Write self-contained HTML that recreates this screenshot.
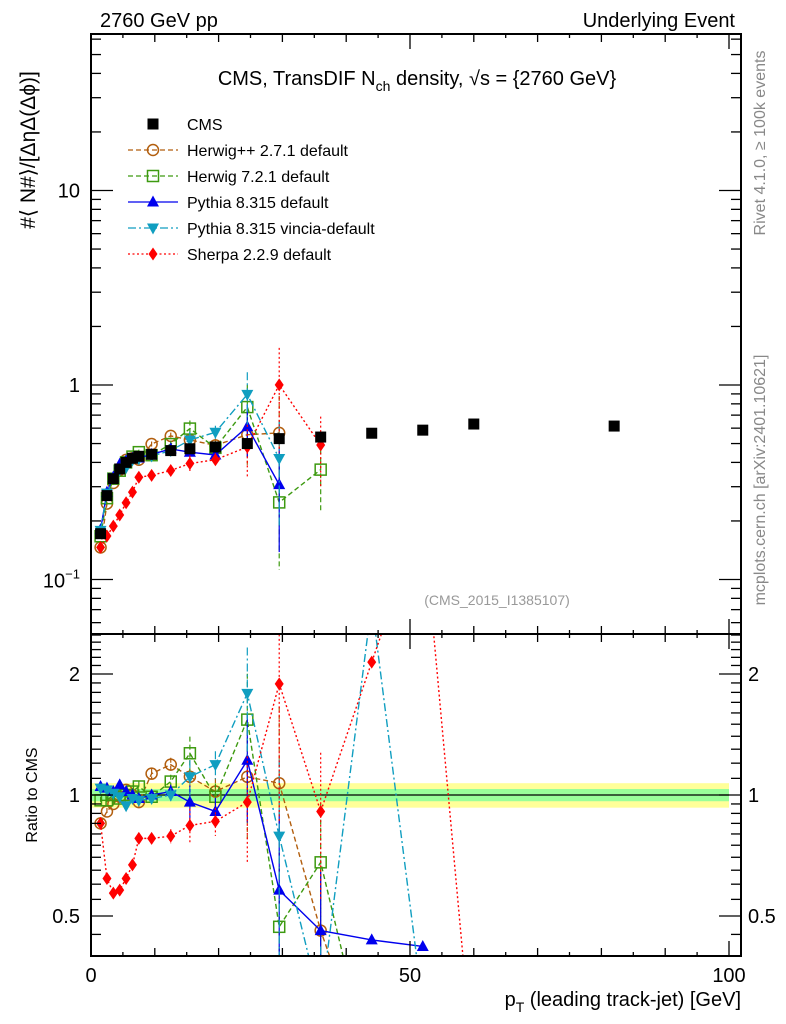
<!DOCTYPE html>
<html><head><meta charset="utf-8">
<style>
html,body{margin:0;padding:0;background:#fff;overflow:hidden;width:786px;height:1024px;}
svg{display:block;font-family:"Liberation Sans",sans-serif;}
</style></head>
<body>
<svg id="chart" width="786" height="1024" viewBox="0 0 786 1024" xmlns="http://www.w3.org/2000/svg">
<text x="100" y="27" font-size="20">2760 GeV pp</text>
<text x="735" y="27" font-size="20" text-anchor="end">Underlying Event</text>
<text x="417" y="85" font-size="20" text-anchor="middle">CMS, TransDIF N<tspan font-size="14" dy="6">ch</tspan><tspan dy="-6"> density, √s = {2760 GeV}</tspan></text>
<text x="497" y="605" font-size="14" fill="#999" text-anchor="middle">(CMS_2015_I1385107)</text>
<text transform="translate(765,143) rotate(-90)" font-size="16" fill="#888" text-anchor="middle">Rivet 4.1.0, ≥ 100k events</text>
<text transform="translate(765,480) rotate(-90)" font-size="16" fill="#888" text-anchor="middle">mcplots.cern.ch [arXiv:2401.10621]</text>
<text transform="translate(35,150) rotate(-90)" font-size="21" text-anchor="middle">#⟨ N#⟩/[ΔηΔ(Δϕ)]</text>
<text transform="translate(37,795) rotate(-90)" font-size="16" text-anchor="middle">Ratio to CMS</text>
<text x="741" y="1006" font-size="20" text-anchor="end">p<tspan font-size="14" dy="6">T</tspan><tspan dy="-6"> (leading track-jet) [GeV]</tspan></text>
<g id="band"></g>
<g id="marks"></g>
<g id="axes"></g>
<g id="legend"></g>
</svg>
<script>
// ---- data ----
const xBins = [1.5,2.5,3.5,4.5,5.5,6.5,7.5,9.5,12.5,15.5,19.5,24.5,29.5,36,44,52,60,82];
const cmsValues = [0.172,0.27,0.33,0.37,0.40,0.42,0.43,0.44,0.46,0.47,0.48,0.50,0.53,0.54,0.565,0.586,0.63,0.615];
const herwigPPRatio = [0.85,0.91,0.95,0.99,1.03,1.0,0.96,1.13,1.19,1.11,1.02,1.11,1.07,0.46,0.2];
const herwig7Ratio = [0.97,0.97,1.0,0.98,1.0,1.02,1.05,0.99,1.08,1.27,0.99,1.54,0.47,0.68,0.2];
const pythiaRatio = [1.05,1.04,1.02,1.06,1.02,1.0,0.98,1.0,1.02,0.96,0.91,1.22,0.58,0.46,0.436,0.42];
const vinciaRatio = [1.04,1.03,1.01,0.99,0.94,0.98,0.97,0.98,1.0,1.11,1.19,1.79,0.79,0.3,3.0,0.3];
const sherpaRatio = [0.85,0.62,0.57,0.58,0.62,0.67,0.78,0.78,0.79,0.84,0.86,0.96,1.89,0.91,2.14,5.0,0.2];
const relErr = [0.02,0.02,0.02,0.02,0.02,0.02,0.03,0.03,0.04,0.1,0.08,0.3,0.55,0.4,0,0,0];
const mainCount = {herwigpp:13, herwig7:14, pythia:13, vincia:13, sherpa:14};
const bandInner = 0.035, bandOuter = 0.07;

// ---- axes ----
const X0=91, X1=741, XPX=6.38;
const sx = v => X0 + v*XPX;
const MT=34, MB=634;
const sy = v => 385 - Math.log10(v)*194.5;
const RT=634, RB=956;
const ry = v => 795 - Math.log10(v)*402;

const NS='http://www.w3.org/2000/svg';
function mk(tag, attrs, parent){const e=document.createElementNS(NS,tag);for(const k in attrs)e.setAttribute(k,attrs[k]);parent.appendChild(e);return e;}
const svg=document.getElementById('chart');
const marks=document.getElementById('marks');
const axes=document.getElementById('axes');
const band=document.getElementById('band');
const legend=document.getElementById('legend');

const defs=mk('defs',{},svg);
const c1=mk('clipPath',{id:'clipMain'},defs); mk('rect',{x:X0,y:MT,width:X1-X0,height:MB-MT},c1);
const c2=mk('clipPath',{id:'clipRatio'},defs); mk('rect',{x:X0,y:RT,width:X1-X0,height:RB-RT},c2);

const b1=mk('rect',{x:X0,y:ry(1+bandOuter),width:sx(100)-X0,height:ry(1-bandOuter)-ry(1+bandOuter),fill:'#ffff99'},band);


const b2=mk('rect',{x:X0,y:ry(1+bandInner),width:sx(100)-X0,height:ry(1-bandInner)-ry(1+bandInner),fill:'#99ff99'},band);


const ln=mk('line',{x1:X0,x2:sx(100),y1:ry(1),y2:ry(1),stroke:'#000','stroke-width':1.3},band);



function marker(type,x,y,color,g){
  const s=5.5;
  if(type==='square') return mk('rect',{x:x-s,y:y-s,width:2*s,height:2*s,fill:'#000'},g);
  if(type==='osquare') return mk('rect',{x:x-s,y:y-s,width:2*s,height:2*s,fill:'none',stroke:color,'stroke-width':1.5},g);
  if(type==='circle') return mk('circle',{cx:x,cy:y,r:s,fill:'none',stroke:color,'stroke-width':1.5},g);
  if(type==='tri') return mk('polygon',{points:`${x},${y-6.5} ${x-6},${y+4.5} ${x+6},${y+4.5}`,fill:color},g);
  if(type==='itri') return mk('polygon',{points:`${x},${y+6.5} ${x-6},${y-4.5} ${x+6},${y-4.5}`,fill:color},g);
  if(type==='diamond') return mk('polygon',{points:`${x},${y-6.5} ${x-4.5},${y} ${x},${y+6.5} ${x+4.5},${y}`,fill:color},g);
}

const series=[
 {key:'herwigpp',name:'Herwig++ 2.7.1 default',color:'#b25e0e',dash:'5,3',m:'circle',r:herwigPPRatio},
 {key:'herwig7',name:'Herwig 7.2.1 default',color:'#3d9a10',dash:'5,3',m:'osquare',r:herwig7Ratio},
 {key:'pythia',name:'Pythia 8.315 default',color:'#0000ee',dash:'',m:'tri',r:pythiaRatio},
 {key:'vincia',name:'Pythia 8.315 vincia-default',color:'#109ec0',dash:'8,3,2,3',m:'itri',r:vinciaRatio},
 {key:'sherpa',name:'Sherpa 2.2.9 default',color:'#ff0000',dash:'2,2.5',m:'diamond',r:sherpaRatio}
];

series.forEach(s=>{
  const g=mk('g',{'clip-path':'url(#clipMain)'},marks);
  
  
  const n=mainCount[s.key];
  let pts=[];
  for(let i=0;i<n;i++){
    const v=cmsValues[i]*s.r[i];
    pts.push(sx(xBins[i])+','+sy(v));
    const e=relErr[i]*v;
    const el=mk('line',{x1:sx(xBins[i]),x2:sx(xBins[i]),y1:sy(v+e),y2:sy(Math.max(v-e,0.01)),stroke:s.color,'stroke-width':1.2,'stroke-dasharray':s.dash||'none'},g);
    
    
  }
  const pl=mk('polyline',{points:pts.join(' '),fill:'none',stroke:s.color,'stroke-width':1.4,'stroke-dasharray':s.dash||'none'},g);
  
  
  for(let i=0;i<n;i++){
    const mm=marker(s.m,sx(xBins[i]),sy(cmsValues[i]*s.r[i]),s.color,g);
    
    
  }
  const gr=mk('g',{'clip-path':'url(#clipRatio)'},marks);
  
  
  let rp=[];
  for(let i=0;i<s.r.length;i++){
    rp.push(sx(xBins[i])+','+ry(s.r[i]));
    const e=relErr[i]*s.r[i];
    if(e<=0) continue;
    const el=mk('line',{x1:sx(xBins[i]),x2:sx(xBins[i]),y1:ry(s.r[i]+e),y2:ry(Math.max(s.r[i]-e,0.01)),stroke:s.color,'stroke-width':1.2,'stroke-dasharray':s.dash||'none'},gr);
    
    
  }
  const pr=mk('polyline',{points:rp.join(' '),fill:'none',stroke:s.color,'stroke-width':1.4,'stroke-dasharray':s.dash||'none'},gr);
  
  
  for(let i=0;i<s.r.length;i++){
    const mm=marker(s.m,sx(xBins[i]),ry(s.r[i]),s.color,gr);
    
    
  }
});

const gc=mk('g',{'clip-path':'url(#clipMain)'},marks);


cmsValues.forEach((v,i)=>{
  const m=marker('square',sx(xBins[i]),sy(v),'#000',gc);
  
  
});

[[MT,MB],[RT,RB]].forEach(([t,b],k)=>{
  const r=mk('rect',{x:X0,y:t,width:X1-X0,height:b-t,fill:'none',stroke:'#000','stroke-width':2},axes);
  
  
  for(let v=0;v<=100;v+=5){
    const L = v%50===0?15:(v%10===0?8:4);
    mk('line',{x1:sx(v),x2:sx(v),y1:b,y2:b-L,stroke:'#000','stroke-width':1.3},axes);
    mk('line',{x1:sx(v),x2:sx(v),y1:t,y2:t+L,stroke:'#000','stroke-width':1.3},axes);
  }
});
const xTickLabels=['0','50','100'];
[0,50,100].forEach((v,i)=>{
  const t=mk('text',{x:sx(v),y:982,'font-size':20,'text-anchor':'middle'},axes);
  t.textContent=xTickLabels[i];
  
  
});
for(let d=-2;d<=1;d++){
  for(let m=1;m<10;m++){
    const v=m*Math.pow(10,d); const y=sy(v);
    if(y<MT||y>MB) continue;
    const L=m===1?22:10;
    mk('line',{x1:X0,x2:X0+L,y1:y,y2:y,stroke:'#000','stroke-width':1.3},axes);
    mk('line',{x1:X1,x2:X1-L,y1:y,y2:y,stroke:'#000','stroke-width':1.3},axes);
  }
}
const yLab=[['10',10],['1',1]];
yLab.forEach(([s,v])=>{
  const t=mk('text',{x:80,y:sy(v)+7,'font-size':20,'text-anchor':'end'},axes);
  t.textContent=s;
  
  
});
const t01=mk('text',{x:80,y:sy(0.1)+8,'font-size':20,'text-anchor':'end'},axes);
t01.innerHTML='10<tspan font-size="13" dy="-9">−1</tspan>';


for(let v=0.45;v<=2.5;v+= (v<1?0.05:0.1)){
  v=Math.round(v*100)/100;
  const y=ry(v); if(y<RT||y>RB) continue;
  const major=(v===0.5||v===1||v===2);
  const L=major?22:10;
  mk('line',{x1:X0,x2:X0+L,y1:y,y2:y,stroke:'#000','stroke-width':1.3},axes);
  mk('line',{x1:X1,x2:X1-L,y1:y,y2:y,stroke:'#000','stroke-width':1.3},axes);
}
const rLab=['0.5','1','2'];
[0.5,1,2].forEach((v,i)=>{
  const a=mk('text',{x:80,y:ry(v)+7,'font-size':20,'text-anchor':'end'},axes);
  a.textContent=rLab[i];
  
  
  const b=mk('text',{x:748,y:ry(v)+7,'font-size':20},axes);
  b.textContent=rLab[i];
  
  
});

const legY=[124,150,176,202,228,254];
const lt=mk('text',{x:187,y:legY[0]+6,'font-size':16},legend);
lt.textContent='CMS';


const lm=marker('square',153,legY[0],'#000',legend);


series.forEach((s,i)=>{
  const y=legY[i+1];
  const l=mk('line',{x1:128,x2:178,y1:y,y2:y,stroke:s.color,'stroke-width':1.3,'stroke-dasharray':s.dash||'none'},legend);
  
  
  const m=marker(s.m,153,y,s.color,legend);
  
  
  const t=mk('text',{x:187,y:y+6,'font-size':16},legend);
  t.textContent=s.name;
  
  
});
</script>
</body></html>
